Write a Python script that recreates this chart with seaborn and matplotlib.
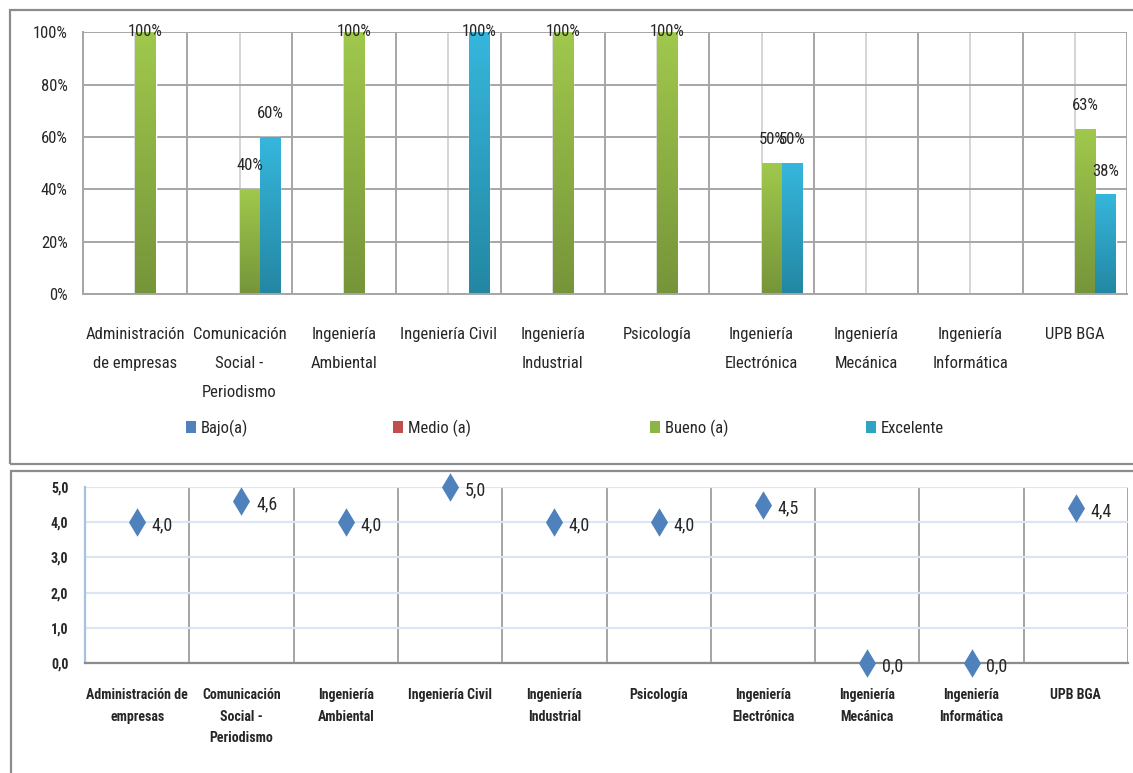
import numpy as np
import pandas as pd
import matplotlib
matplotlib.use("Agg")
import matplotlib.pyplot as plt
from matplotlib.patches import Rectangle, Patch
from matplotlib.colors import to_rgb
from matplotlib.ticker import FuncFormatter
import seaborn as sns

# ---- data -------------------------------------------------------------
programas = [
    "Administración de empresas", "Comunicación Social - Periodismo",
    "Ingeniería Ambiental", "Ingeniería Civil", "Ingeniería Industrial",
    "Psicología", "Ingeniería Electrónica", "Ingeniería Mecánica",
    "Ingeniería Informática", "UPB BGA",
]
etiquetas_barras = [
    "Administración\nde empresas", "Comunicación\nSocial -\nPeriodismo",
    "Ingeniería\nAmbiental", "Ingeniería Civil", "Ingeniería\nIndustrial",
    "Psicología", "Ingeniería\nElectrónica", "Ingeniería\nMecánica",
    "Ingeniería\nInformática", "UPB BGA",
]
etiquetas_puntos = [
    "Administración de\nempresas", "Comunicación\nSocial -\nPeriodismo",
    "Ingeniería\nAmbiental", "Ingeniería Civil", "Ingeniería\nIndustrial",
    "Psicología", "Ingeniería\nElectrónica", "Ingeniería\nMecánica",
    "Ingeniería\nInformática", "UPB BGA",
]
niveles = ["Bajo(a)", "Medio (a)", "Bueno (a)", "Excelente"]
bajo = [0, 0, 0, 0, 0, 0, 0, 0, 0, 0]
medio = [0, 0, 0, 0, 0, 0, 0, 0, 0, 0]
bueno = [1.00, 0.40, 1.00, 0, 1.00, 1.00, 0.50, 0, 0, 0.63]
excelente = [0, 0.60, 0, 1.00, 0, 0, 0.50, 0, 0, 0.38]
calificacion = [4.0, 4.6, 4.0, 5.0, 4.0, 4.0, 4.5, 0.0, 0.0, 4.4]

# ---- styling ----------------------------------------------------------
sns.set_theme(style="white")
plt.rcParams["font.family"] = ["Roboto Condensed", "Liberation Sans Narrow",
                               "DejaVu Sans"]
plt.rcParams["font.stretch"] = "condensed"

colores = {"Bajo(a)": "#4F81BD", "Medio (a)": "#C0504D",
           "Bueno (a)": "#8DB446", "Excelente": "#2FA3C4"}
degradado = {"Bajo(a)": ("#5A8FD0", "#2F5F9A"),
             "Medio (a)": ("#D0605C", "#8E2F2C"),
             "Bueno (a)": ("#A0C84C", "#76953A"),
             "Excelente": ("#36B6DC", "#2387A3")}
gris = "#A6A6A6"
fs = 12

W, H = 1133, 773
fig = plt.figure(figsize=(W / 100, H / 100), dpi=100)

# outer frames of the two charts
fig.add_artist(Rectangle((10 / W, 1 - 464 / H), 1.2, (464 - 10.5) / H,
                         transform=fig.transFigure, fill=False,
                         ec="#8C8C8C", lw=1.6))
fig.add_artist(Rectangle((11 / W, -0.2), 1.2, 1.2 - 470.5 / H,
                         transform=fig.transFigure, fill=False,
                         ec="#8C8C8C", lw=1.6))

# ---- top: distribution by level --------------------------------------
ax1 = fig.add_axes([83 / W, 1 - 294 / H, (1127 - 83) / W, (294 - 32.5) / H])
df = pd.DataFrame({
    "programa": programas * 4,
    "nivel": np.repeat(niveles, len(programas)),
    "valor": bajo + medio + bueno + excelente,
})
sns.barplot(data=df, x="programa", y="valor", hue="nivel", order=programas,
            hue_order=niveles, palette=colores, width=0.78, saturation=1,
            errorbar=None, legend=False, ax=ax1, zorder=2)

for nivel, cont in zip(niveles, ax1.containers):
    top, bot = (np.array(to_rgb(c)) for c in degradado[nivel])
    t = np.linspace(0, 1, 64)[:, None, None]
    grad = top * (1 - t) + bot * t
    for bar in cont:
        v = bar.get_height()
        if v <= 0:
            continue
        x0 = bar.get_x()
        ax1.imshow(grad, extent=(x0, x0 + bar.get_width(), 0, v),
                   origin="upper", aspect="auto", interpolation="bilinear",
                   zorder=2.1)
        texto = f"{int(v * 100 + 0.5)}%"
        dy = 1 if v >= 1 else 17
        ax1.annotate(texto, (x0 + bar.get_width() / 2, v),
                     xytext=(0, dy), textcoords="offset points",
                     ha="center", va="center", fontsize=fs, zorder=5)

ax1.set_xlim(-0.5, len(programas) - 0.5)
ax1.set_ylim(0, 1)
ax1.set_yticks(np.arange(0, 1.01, 0.2))
ax1.yaxis.set_major_formatter(FuncFormatter(lambda v, p: f"{v * 100:.0f}%"))
ax1.set_xticks(range(len(programas)))
ax1.set_xticklabels(etiquetas_barras, fontsize=fs, linespacing=2.15,
                    va="top")
ax1.set_xticks(np.arange(-0.5, len(programas), 1), minor=True)
ax1.set_xlabel("")
ax1.set_ylabel("")
ax1.set_axisbelow(True)
ax1.grid(axis="y", color=gris, lw=1.4)
ax1.grid(axis="x", which="major", color="#D2D2D2", lw=1.3)
ax1.grid(axis="x", which="minor", color=gris, lw=1.4)
ax1.tick_params(axis="x", which="major", length=0, pad=24)
ax1.tick_params(axis="x", which="minor", length=9, width=1.3, color=gris,
                direction="out")
ax1.tick_params(axis="y", length=5, width=1.3, color=gris, direction="out",
                pad=6, labelsize=fs)
for lado in ("top", "right"):
    ax1.spines[lado].set_visible(False)
for lado in ("left", "bottom"):
    ax1.spines[lado].set_color(gris)
    ax1.spines[lado].set_linewidth(1.4)

# legend entries spread along the bottom of the top frame
leg_x = [186, 393, 650, 866]
for nivel, xl in zip(niveles, leg_x):
    fig.legend(handles=[Patch(facecolor=colores[nivel], edgecolor="none")],
               labels=[nivel], loc="center left",
               bbox_to_anchor=(xl / W, 1 - 428 / H), frameon=False,
               borderpad=0, borderaxespad=0, handlelength=0.6,
               handleheight=0.75, handletextpad=0.3, fontsize=fs)

# ---- bottom: average score -------------------------------------------
ax2 = fig.add_axes([85 / W, 1 - 663 / H, (1128 - 85) / W, (663 - 487) / H])
sns.stripplot(x=programas, y=calificacion, order=programas, marker="d",
              size=14.5, color="#4F81BD", linewidth=0, jitter=False, ax=ax2,
              zorder=4)
for col in ax2.collections:
    col.set_clip_on(False)

for i, v in enumerate(calificacion):
    ax2.annotate(f"{v:.1f}".replace(".", ","), (i, v), xytext=(10.5, -2.5),
                 textcoords="offset points", ha="left", va="center",
                 fontsize=13, zorder=5)

ax2.set_xlim(-0.5, len(programas) - 0.5)
ax2.set_ylim(0, 5)
ax2.set_yticks(np.arange(0, 5.01, 1))
ax2.yaxis.set_major_formatter(
    FuncFormatter(lambda v, p: f"{v:.1f}".replace(".", ",")))
ax2.set_xticks(range(len(programas)))
ax2.set_xticklabels(etiquetas_puntos, fontsize=10, fontweight="bold",
                    linespacing=1.7, va="top")
ax2.set_xticks(np.arange(-0.5, len(programas), 1), minor=True)
for lbl in ax2.get_yticklabels():
    lbl.set_fontweight("bold")
ax2.set_xlabel("")
ax2.set_ylabel("")
ax2.set_axisbelow(True)
ax2.grid(axis="y", color="#DCE6F2", lw=1.6)
ax2.grid(axis="x", which="minor", color="#8C8C8C", lw=1.1)
ax2.grid(axis="x", which="major", visible=False)
ax2.tick_params(axis="x", which="major", length=0, pad=18)
ax2.tick_params(axis="x", which="minor", length=8, width=1.1,
                color="#8C8C8C", direction="out")
ax2.tick_params(axis="y", length=4, width=1.3, color="#A7C0E0",
                direction="out", pad=8, labelsize=10)
ax2.spines["top"].set_visible(False)
ax2.spines["right"].set_visible(False)
ax2.spines["left"].set_color("#A7C0E0")
ax2.spines["left"].set_linewidth(1.6)
ax2.spines["bottom"].set_color("#8C8C8C")
ax2.spines["bottom"].set_linewidth(1.6)

fig.savefig("out.png", dpi=100)
